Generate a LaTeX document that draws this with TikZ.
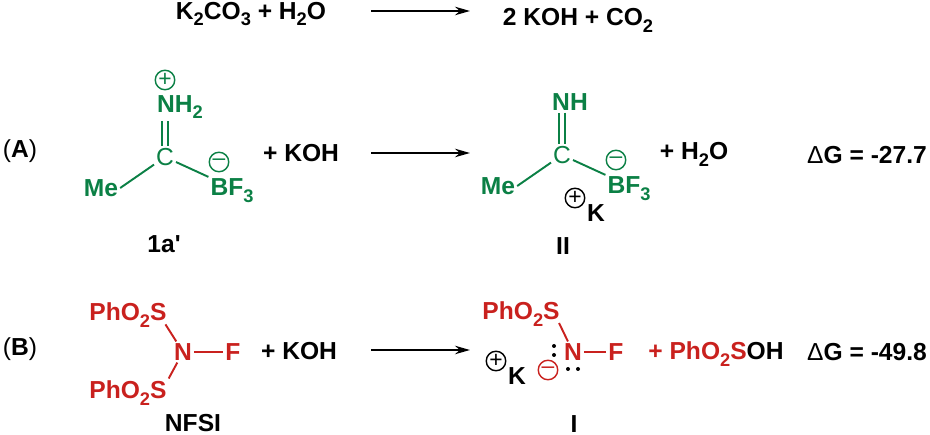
\documentclass[tikz,border=0pt]{standalone}
\usepackage{fontspec}
\usepackage{xcolor}
\setmainfont{Liberation Sans}
\usetikzlibrary{arrows.meta, positioning}
\definecolor{molgreen}{HTML}{0B8045}
\definecolor{molred}{HTML}{C9211E}
\newcommand{\subs}[1]{\raisebox{-0.28em}{\fontsize{10.4}{11}\selectfont\bfseries #1}}
\tikzset{
    lbl/.style={font=\fontsize{14}{16}\selectfont\bfseries, inner sep=1pt, text=black},
    grn/.style={lbl, text=molgreen},
    rd/.style={lbl, text=molred},
    chg/.style={circle, draw, line width=0.8pt, inner sep=0pt, minimum size=0.39cm, font=\fontsize{13}{13}\selectfont},
    bond/.style={line width=1.1pt},
    rxn/.style={-{Stealth[length=0.3cm, width=0.17cm]}, line width=1.1pt}
}

\begin{document}
\begin{tikzpicture}[x=0.02cm, y=-0.02cm]
        \useasboundingbox (0,0) rectangle (930,435);

        % Top reaction
        \node[lbl] (carb) at (251,14) {K\subs{2}CO\subs{3} + H\subs{2}O};
        \node[lbl] (prod) at (578,20) {2 KOH + CO\subs{2}};
        \coordinate (t0) at (371,11);
        \coordinate (t1) at (470,11);
        \draw[rxn] (t0) -- (t1);

        % Reaction A
        \node[lbl] (tagA) at (20,151) {\fontseries{m}\selectfont(\textbf{A})};
        \node[grn] (c1) at (165,157) {\fontseries{m}\selectfont C};
        \node[grn] (nh2) at (180,107) {NH\subs{2}};
        \node[grn] (me1) at (101,188) {Me};
        \node[grn] (bf1) at (232,191) {BF\subs{3}};
        \node[chg, molgreen] (pos1) at (165,80) {+};
        \node[chg, molgreen] (neg1) at (219,162) {--};
        \node[lbl] (koh1) at (301,153) {+ KOH};
        \node[lbl] (name1) at (164,244) {1a\textquotesingle};
        \draw[molgreen, double, double distance=2.4pt, line width=0.8pt] (c1 |- nh2.south) -- (c1.north);
        \draw[bond, molgreen] (me1.east) -- (c1);
        \draw[bond, molgreen] (c1) -- (bf1.north west);

        \coordinate (a0) at (371,153);
        \coordinate (a1) at (470,153);
        \draw[rxn] (a0) -- (a1);

        \node[grn] (c2) at (562,155) {\fontseries{m}\selectfont C};
        \node[grn] (nh) at (570,102) {NH};
        \node[grn] (me2) at (498,186) {Me};
        \node[grn] (bf2) at (629,189) {BF\subs{3}};
        \node[chg, molgreen] (neg2) at (616,160) {--};
        \node[chg] (pos2) at (575,198) {+};
        \node[lbl] (k1) at (596,213) {K};
        \node[lbl] (water) at (694,154) {+ H\subs{2}O};
        \node[lbl] (name2) at (563,246) {II};
        \node[lbl] (dga) at (867,155) {{\fontseries{m}\selectfont Δ}G = -27.7};
        \draw[molgreen, double, double distance=2.4pt, line width=0.8pt] (c2 |- nh.south) -- (c2.north);
        \draw[bond, molgreen] (me2.east) -- (c2);
        \draw[bond, molgreen] (c2) -- (bf2.north west);

        % Reaction B
        \node[lbl] (tagB) at (20,349) {\fontseries{m}\selectfont(\textbf{B})};
        \node[rd] (n1) at (183,352) {N};
        \node[rd] (f1) at (233,352) {F};
        \node[rd] (s1) at (128,315) {PhO\subs{2}S};
        \node[rd] (s2) at (128,393) {PhO\subs{2}S};
        \node[lbl] (koh2) at (299,351) {+ KOH};
        \node[lbl] (name3) at (193,423) {NFSI};
        \draw[bond, molred] (n1) -- (f1);
        \draw[bond, molred, shorten <=-0.12cm] (s1.south east) -- (n1);
        \draw[bond, molred] (s2.north east) -- (n1);

        \coordinate (b0) at (371,350);
        \coordinate (b1) at (470,350);
        \draw[rxn] (b0) -- (b1);

        \node[rd] (n2) at (573,352) {N};
        \node[rd] (f2) at (616,352) {F};
        \node[rd] (s3) at (521,314) {PhO\subs{2}S};
        \node[chg] (pos3) at (496,361) {+};
        \node[lbl] (k2) at (517,376) {K};
        \node[chg, molred] (neg3) at (548,370) {--};
        \node[lbl] (acid) at (716,354) {\textcolor{molred}{+ PhO\subs{2}S}OH};
        \node[lbl] (name4) at (574,424) {I};
        \node[lbl] (dgb) at (867,352) {{\fontseries{m}\selectfont Δ}G = -49.8};
        \draw[bond, molred] (n2) -- (f2);
        \draw[bond, molred, shorten <=-0.12cm] (s3.south east) -- (n2);

        % Lone pairs on N
        \foreach \x/\y in {554/346, 554/355, 568/369, 578/369} {
                \fill (\x,\y) circle (2);
            }
    \end{tikzpicture}
\end{document}
